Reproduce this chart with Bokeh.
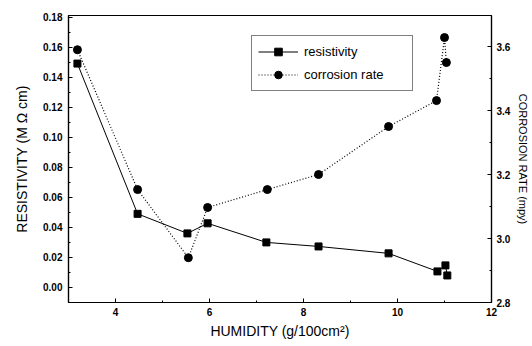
from bokeh.plotting import figure
from bokeh.models import Range1d, LinearAxis, FixedTicker, PrintfTickFormatter, Legend, LegendItem
from bokeh.embed import file_html
from bokeh.resources import INLINE

humidity_res = [3.19, 4.47, 5.53, 5.96, 7.21, 8.32, 9.81, 10.85, 11.02, 11.06]
resistivity = [0.149, 0.049, 0.036, 0.0427, 0.030, 0.0273, 0.0227, 0.0107, 0.0147, 0.008]
humidity_cor = [3.19, 4.47, 5.55, 5.96, 7.23, 8.32, 9.81, 10.83, 11.0, 11.04]
corrosion = [3.59, 3.153, 2.94, 3.097, 3.153, 3.20, 3.35, 3.431, 3.628, 3.55]

x_ticks = [4, 6, 8, 10, 12]
x_minor = [3, 5, 7, 9, 11]
left_ticks = [0.00, 0.02, 0.04, 0.06, 0.08, 0.10, 0.12, 0.14, 0.16, 0.18]
left_minor = [0.01, 0.03, 0.05, 0.07, 0.09, 0.11, 0.13, 0.15, 0.17]
right_ticks = [2.8, 3.0, 3.2, 3.4, 3.6]
right_minor = [2.9, 3.1, 3.3, 3.5]

FONT = "Liberation Sans"

p = figure(width=532, height=346, output_backend="svg", toolbar_location=None,
           x_range=Range1d(3, 12), y_range=Range1d(-0.01, 0.181),
           min_border_left=68, min_border_right=40, min_border_top=15, min_border_bottom=44)
p.extra_y_ranges = {"cor": Range1d(2.8, 3.697)}
p.grid.visible = False
p.outline_line_color = "black"
p.outline_line_width = 1.2
p.background_fill_color = "white"
p.border_fill_color = "white"

def style_axis(ax, fmt, ticks, minor):
    ax.ticker = FixedTicker(ticks=ticks, minor_ticks=minor)
    ax.formatter = PrintfTickFormatter(format=fmt)
    ax.axis_line_color = "black"
    ax.axis_line_width = 1.2
    ax.major_tick_in = 4
    ax.major_tick_out = 0
    ax.minor_tick_in = 2
    ax.minor_tick_out = 0
    ax.major_tick_line_color = "black"
    ax.minor_tick_line_color = "black"
    ax.major_label_text_font = FONT
    ax.major_label_text_font_style = "bold"
    ax.major_label_text_font_size = "10px"
    ax.major_label_text_color = "black"
    ax.axis_label_text_font = FONT
    ax.axis_label_text_font_style = "normal"
    ax.axis_label_text_color = "black"

xa = p.xaxis[0]
style_axis(xa, "%d", x_ticks, x_minor)
xa.axis_label = "HUMIDITY (g/100cm²)"
xa.axis_label_text_font_size = "14px"
xa.major_label_standoff = 5
xa.axis_label_standoff = 4

ya = p.yaxis[0]
style_axis(ya, "%.2f", left_ticks, left_minor)
ya.axis_label = "RESISTIVITY (M Ω cm)"
ya.axis_label_text_font_size = "14px"
ya.major_label_standoff = 6
ya.axis_label_standoff = 10

ra = LinearAxis(y_range_name="cor")
style_axis(ra, "%.1f", right_ticks, right_minor)
ra.axis_label = "CORROSION RATE (mpy)"
ra.axis_label_text_font_size = "11px"
ra.major_label_standoff = 5
ra.axis_label_standoff = 4
p.add_layout(ra, "right")

r1 = p.line(humidity_res, resistivity, line_color="black", line_width=1)
r2 = p.scatter(humidity_res, resistivity, marker="square", size=7, fill_color="black", line_color="black")
r3 = p.line(humidity_cor, corrosion, line_color="black", line_width=1.2, line_dash="1 2", y_range_name="cor")
r4 = p.scatter(humidity_cor, corrosion, marker="circle", size=8, fill_color="black", line_color="black", y_range_name="cor")

legend = Legend(items=[LegendItem(label="resistivity", renderers=[r1, r2]),
                       LegendItem(label="corrosion rate", renderers=[r3, r4])],
                location=(183, 211))
legend.label_text_font = FONT
legend.label_text_font_size = "13px"
legend.label_text_color = "black"
legend.border_line_color = "black"
legend.border_line_width = 1
legend.background_fill_alpha = 1
legend.padding = 6
legend.spacing = 4
legend.glyph_height = 19
legend.label_height = 19
legend.glyph_width = 40
legend.label_standoff = 6
legend.label_width = 102
legend.margin = 0
p.add_layout(legend, "center")

open("out.html", "w").write(file_html(p, INLINE))
